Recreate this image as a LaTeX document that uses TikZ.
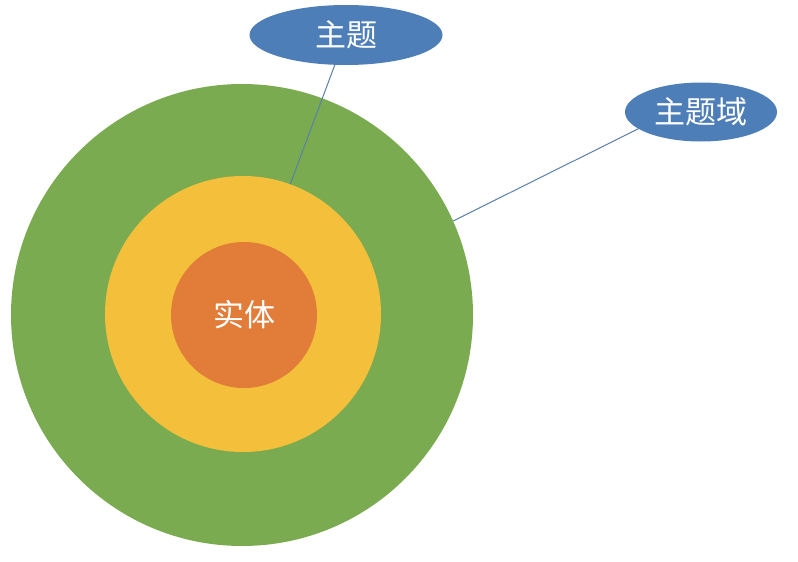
\documentclass[tikz,border=0pt]{standalone}
\usepackage{fontspec}
\newfontfamily\cjk{Noto Sans CJK SC}
\usetikzlibrary{shapes.geometric}

\definecolor{ringgreen}{HTML}{7AAB50}
\definecolor{ringyellow}{HTML}{F4BF3B}
\definecolor{ringorange}{HTML}{E27C39}
\definecolor{topicblue}{HTML}{4E7EB8}
\definecolor{linkblue}{HTML}{5A80A8}

\begin{document}
\begin{tikzpicture}[
    x=1pt, y=-1pt,
    ring/.style={circle, inner sep=0pt, draw=none},
    bubble/.style={ellipse, fill=topicblue, inner sep=0pt, text=white, font=\cjk\fontsize{31}{34}\selectfont},
    link/.style={draw=linkblue, line width=1pt}
]
\useasboundingbox (0,0) rectangle (798,562);

\node[ring, fill=ringgreen, minimum size=462pt] (domain) at (242,315) {};
\node[ring, fill=ringyellow, minimum size=276pt] (topic) at (243,314) {};
\node[ring, fill=ringorange, minimum size=146pt, text=white, font=\cjk\fontsize{31}{34}\selectfont] (entity) at (244,315) {实体};

\node[bubble, minimum width=193pt, minimum height=60pt] (topic_label) at (346,35) {主题};
\node[bubble, minimum width=152pt, minimum height=59pt] (domain_label) at (701,112) {主题域};

\draw[link] (topic_label) -- (topic.70);
\draw[link] (domain_label.195) -- (domain.24);
\end{tikzpicture}
\end{document}
